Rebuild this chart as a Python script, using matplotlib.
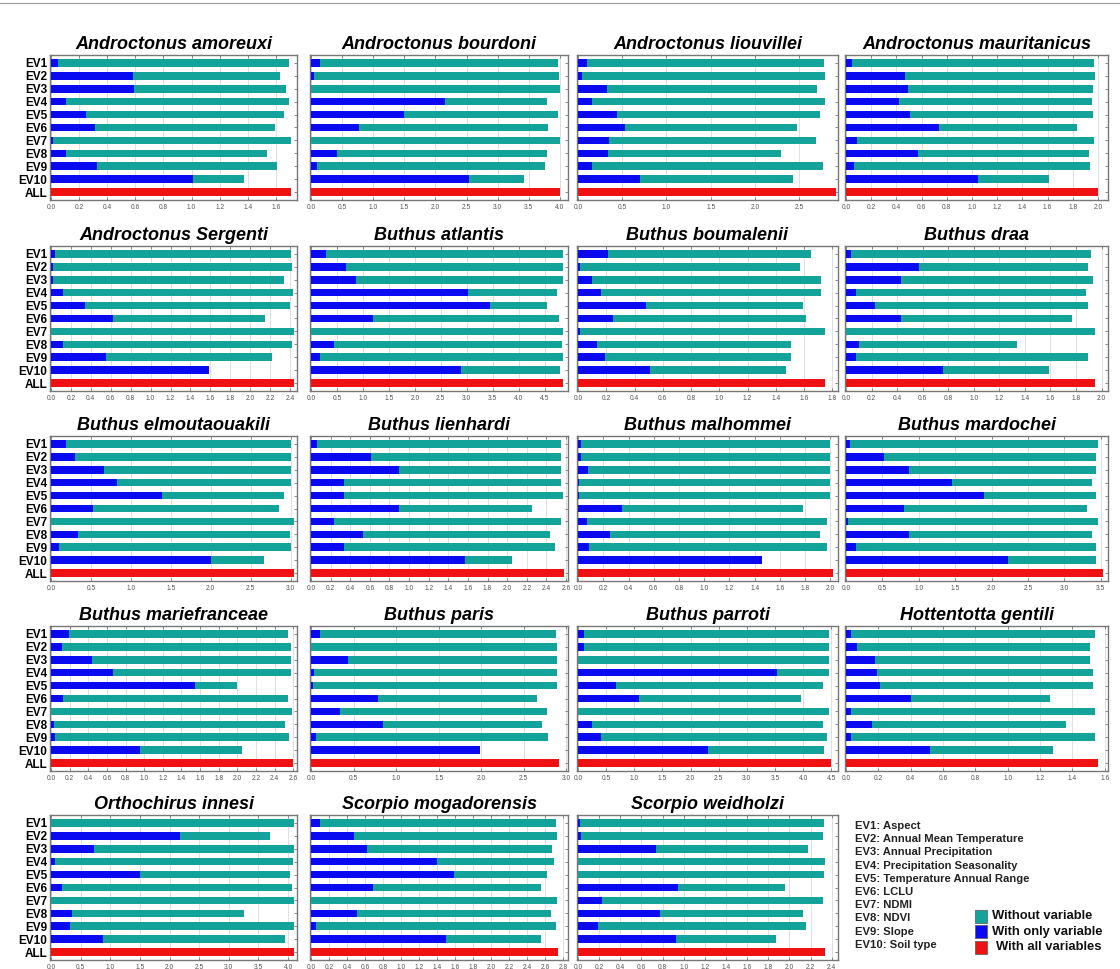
import numpy as np
import matplotlib
matplotlib.use("Agg")
import matplotlib.pyplot as plt
from matplotlib.lines import Line2D
from matplotlib.patches import Rectangle

plt.rcParams['font.family'] = ['Liberation Sans', 'DejaVu Sans']

species = ['Androctonus amoreuxi', 'Androctonus bourdoni', 'Androctonus liouvillei', 'Androctonus mauritanicus',
           'Androctonus Sergenti', 'Buthus atlantis', 'Buthus boumalenii', 'Buthus draa',
           'Buthus elmoutaouakili', 'Buthus lienhardi', 'Buthus malhommei', 'Buthus mardochei',
           'Buthus mariefranceae', 'Buthus paris', 'Buthus parroti', 'Hottentotta gentili',
           'Orthochirus innesi', 'Scorpio mogadorensis', 'Scorpio weidholzi']

row_labels = ['EV1', 'EV2', 'EV3', 'EV4', 'EV5', 'EV6', 'EV7', 'EV8', 'EV9', 'EV10', 'ALL']

# "Without variable" gain, EV1..EV10
without_var = [
    [1.69, 1.63, 1.67, 1.69, 1.66, 1.59, 1.71, 1.54, 1.61, 1.37],
    [3.97, 3.99, 4.00, 3.80, 3.97, 3.81, 4.00, 3.80, 3.76, 3.42],
    [2.78, 2.79, 2.70, 2.79, 2.74, 2.48, 2.69, 2.30, 2.77, 2.43],
    [1.97, 1.98, 1.96, 1.95, 1.96, 1.83, 1.97, 1.93, 1.94, 1.61],
    [2.41, 2.42, 2.34, 2.43, 2.40, 2.15, 2.44, 2.42, 2.22, 1.50],
    [4.85, 4.86, 4.86, 4.74, 4.55, 4.78, 4.86, 4.83, 4.86, 4.79],
    [1.65, 1.57, 1.72, 1.72, 1.59, 1.61, 1.75, 1.51, 1.51, 1.47],
    [1.92, 1.89, 1.93, 1.88, 1.89, 1.77, 1.95, 1.34, 1.89, 1.59],
    [3.00, 3.00, 3.00, 3.00, 2.92, 2.86, 3.04, 2.99, 3.00, 2.67],
    [2.55, 2.55, 2.55, 2.55, 2.57, 2.25, 2.55, 2.44, 2.49, 2.05],
    [2.00, 2.00, 2.00, 2.00, 2.00, 1.78, 1.97, 1.92, 1.97, 1.40],
    [3.46, 3.43, 3.43, 3.38, 3.43, 3.31, 3.46, 3.38, 3.43, 3.43],
    [2.54, 2.58, 2.58, 2.58, 2.00, 2.54, 2.59, 2.51, 2.55, 2.05],
    [2.88, 2.89, 2.89, 2.89, 2.89, 2.65, 2.77, 2.71, 2.78, 1.85],
    [4.46, 4.46, 4.46, 4.46, 4.35, 3.97, 4.46, 4.35, 4.42, 4.38],
    [1.54, 1.51, 1.51, 1.53, 1.53, 1.26, 1.54, 1.36, 1.54, 1.28],
    [4.10, 3.70, 4.10, 4.09, 4.04, 4.07, 4.10, 3.25, 4.10, 3.94],
    [2.72, 2.73, 2.67, 2.70, 2.62, 2.55, 2.73, 2.66, 2.72, 2.55],
    [2.33, 2.32, 2.18, 2.34, 2.33, 1.96, 2.32, 2.13, 2.16, 1.87],
]

# "With only variable" gain, EV1..EV10
only_var = [
    [0.05, 0.58, 0.59, 0.11, 0.25, 0.31, 0.015, 0.11, 0.33, 1.01],
    [0.14, 0.045, 0.0, 2.16, 1.50, 0.77, 0.0, 0.42, 0.095, 2.54],
    [0.10, 0.05, 0.33, 0.155, 0.44, 0.53, 0.35, 0.34, 0.16, 0.70],
    [0.05, 0.47, 0.49, 0.42, 0.51, 0.74, 0.09, 0.57, 0.065, 1.05],
    [0.044, 0.02, 0.02, 0.12, 0.34, 0.62, 0.0, 0.12, 0.55, 1.59],
    [0.28, 0.67, 0.86, 3.02, 3.44, 1.20, 0.0, 0.45, 0.18, 2.88],
    [0.21, 0.017, 0.10, 0.16, 0.48, 0.245, 0.017, 0.135, 0.19, 0.51],
    [0.035, 0.57, 0.43, 0.08, 0.23, 0.43, 0.0, 0.10, 0.08, 0.76],
    [0.19, 0.30, 0.66, 0.83, 1.39, 0.52, 0.0, 0.34, 0.10, 2.00],
    [0.06, 0.61, 0.90, 0.34, 0.34, 0.90, 0.23, 0.53, 0.34, 1.57],
    [0.025, 0.02, 0.08, 0.01, 0.01, 0.35, 0.07, 0.25, 0.09, 1.46],
    [0.06, 0.52, 0.87, 1.46, 1.89, 0.80, 0.02, 0.87, 0.13, 2.23],
    [0.19, 0.12, 0.44, 0.67, 1.55, 0.13, 0.0, 0.03, 0.04, 0.95],
    [0.10, 0.0, 0.43, 0.04, 0.02, 0.79, 0.34, 0.85, 0.06, 1.98],
    [0.11, 0.11, 0.0, 3.53, 0.68, 1.08, 0.0, 0.25, 0.40, 2.31],
    [0.03, 0.07, 0.18, 0.19, 0.21, 0.40, 0.03, 0.16, 0.03, 0.52],
    [0.0, 2.17, 0.73, 0.06, 1.50, 0.19, 0.0, 0.36, 0.32, 0.88],
    [0.10, 0.48, 0.62, 1.40, 1.59, 0.69, 0.0, 0.51, 0.06, 1.50],
    [0.02, 0.03, 0.74, 0.0, 0.0, 0.95, 0.23, 0.78, 0.19, 0.93],
]

# "With all variables" gain
all_vars = [1.71, 4.00, 2.92, 2.00, 2.44, 4.86, 1.75, 1.95, 3.04, 2.58,
            2.02, 3.53, 2.60, 2.92, 4.50, 1.56, 4.10, 2.74, 2.34]

# axis settings (tick step, last tick, right limit)
tick_step = [0.2, 0.5, 0.5, 0.2, 0.2, 0.5, 0.2, 0.2, 0.5, 0.2, 0.2, 0.5, 0.2, 0.5, 0.5, 0.2, 0.5, 0.2, 0.2]
tick_max = [1.6, 4.0, 2.5, 2.0, 2.4, 4.5, 1.8, 2.0, 3.0, 2.6, 2.0, 3.5, 2.6, 3.0, 4.5, 1.6, 4.0, 2.8, 2.4]
x_right = [1.75, 4.13, 2.94, 2.08, 2.47, 4.95, 1.84, 2.05, 3.08, 2.62, 2.06, 3.60, 2.64, 3.02, 4.62, 1.62, 4.15, 2.85, 2.46]

ev_names = ['EV1: Aspect', 'EV2: Annual Mean Temperature', 'EV3: Annual Precipitation',
            'EV4: Precipitation Seasonality', 'EV5: Temperature Annual Range', 'EV6: LCLU',
            'EV7: NDMI', 'EV8: NDVI', 'EV9: Slope', 'EV10: Soil type']

TEAL = '#14a39b'
BLUE = '#0a0af0'
RED = '#f01212'

W, H = 1120, 969
fig = plt.figure(figsize=(W / 100, H / 100), dpi=100)

col_left = [50, 310, 577, 845]
col_right = [297, 568, 838, 1108]
row_top = [55, 246, 436, 626, 815]
ax_h = 145

# thin rule at the top
fig.add_artist(Line2D([0, 1], [1 - 3 / H, 1 - 3 / H], color='#999999', lw=0.8))

y = np.arange(11)
for i, name in enumerate(species):
    r, c = divmod(i, 4)
    l = col_left[c] / W
    w = (col_right[c] - col_left[c]) / W
    b = 1 - (row_top[r] + ax_h) / H
    ax = fig.add_axes([l, b, w, ax_h / H])

    ax.barh(y[:10], without_var[i], height=0.6, color=TEAL, zorder=2)
    ax.barh(y[:10], only_var[i], height=0.6, color=BLUE, zorder=3)
    ax.barh(y[10], all_vars[i], height=0.6, color=RED, zorder=3)

    ax.set_ylim(10.6, -0.6)
    ax.set_xlim(-0.004 * x_right[i], x_right[i])
    ticks = np.arange(0, tick_max[i] + 1e-6, tick_step[i])
    ax.set_xticks(ticks)
    ax.set_xticklabels(['%.1f' % t for t in ticks], fontsize=4.8, color='#555555')
    ax.set_yticks(y)
    if c == 0:
        ax.set_yticklabels(row_labels, fontsize=8.5, fontweight='bold')
    else:
        ax.set_yticklabels([])
    ax.tick_params(axis='both', direction='in', length=2, width=0.6, color='#777777',
                   top=True, right=True, pad=3)
    ax.tick_params(axis='y', pad=2)
    ax.grid(axis='x', color='#d9d9d9', lw=0.6, zorder=0)
    ax.set_axisbelow(True)
    for s in ax.spines.values():
        s.set_color('#777777')
        s.set_linewidth(1.0)
    ax.set_title(name, fontsize=13, fontweight='bold', fontstyle='italic', pad=4)

# variable key
for k, txt in enumerate(ev_names):
    fig.text(855 / W, 1 - (826 + k * 13.2) / H, txt, fontsize=8.1, fontweight='bold',
             color='#222222', va='center', ha='left')

legend_items = [('Without variable', TEAL), ('With only variable', BLUE), ('With all variables', RED)]
for k, (lab, col) in enumerate(legend_items):
    yc = 916 + k * 15.5
    fig.add_artist(Rectangle((975 / W, 1 - (yc + 6.5) / H), 12 / W, 13 / H, facecolor=col,
                             edgecolor='#555555', lw=0.5, transform=fig.transFigure))
    fig.text((992 if k < 2 else 996) / W, 1 - yc / H, lab, fontsize=9.4, fontweight='bold',
             color='#111111', va='center', ha='left')

fig.savefig('out.png', dpi=100)
